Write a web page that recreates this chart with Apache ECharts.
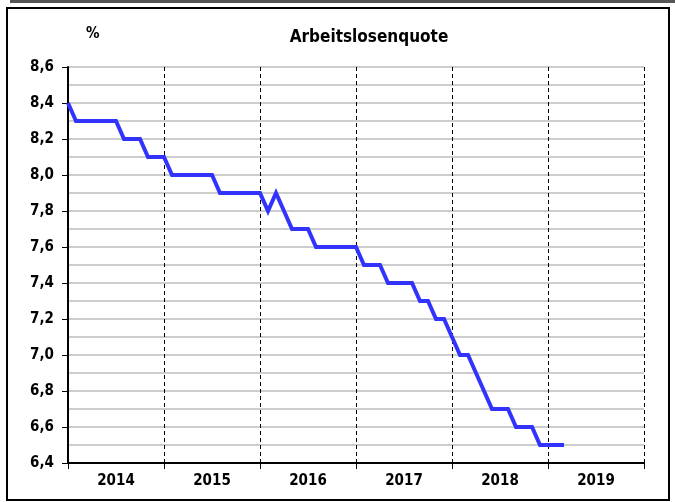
<!DOCTYPE html>
<html>
<head>
<meta charset="utf-8">
<script src="https://cdn.jsdelivr.net/npm/echarts@6/dist/echarts.min.js"></script>
<style>
  html, body { margin: 0; padding: 0; background: #fff; }
  #chart { width: 675px; height: 502px; }
</style>
</head>
<body>
<div id="chart"></div>
<script>
// Jahre der x-Achse
const years = ['2014', '2015', '2016', '2017', '2018', '2019']
// Arbeitslosenquote, monatlich ab Januar 2014 (in %)
const quote = [
  8.4, 8.3, 8.3, 8.3, 8.3, 8.3, 8.3, 8.2, 8.2, 8.2, 8.1, 8.1,
  8.1, 8.0, 8.0, 8.0, 8.0, 8.0, 8.0, 7.9, 7.9, 7.9, 7.9, 7.9,
  7.9, 7.8, 7.9, 7.8, 7.7, 7.7, 7.7, 7.6, 7.6, 7.6, 7.6, 7.6,
  7.6, 7.5, 7.5, 7.5, 7.4, 7.4, 7.4, 7.4, 7.3, 7.3, 7.2, 7.2,
  7.1, 7.0, 7.0, 6.9, 6.8, 6.7, 6.7, 6.7, 6.6, 6.6, 6.6, 6.5,
  6.5, 6.5, 6.5
]

const font = "'Liberation Sans Narrow', 'DejaVu Sans Condensed', sans-serif"
const chart = echarts.init(document.getElementById('chart'))

chart.setOption({
  animation: false,
  textStyle: { fontFamily: font },
  grid: { left: 68, top: 67, right: 31, bottom: 39 },
  graphic: [
    // Rahmen
    { type: 'rect', shape: { x: 7, y: 8, width: 662, height: 492 }, style: { fill: 'none', stroke: '#000', lineWidth: 2 } },
    { type: 'line', shape: { x1: 10, y1: 1.5, x2: 675, y2: 1.5 }, style: { stroke: '#555', lineWidth: 3 } },
    { type: 'text', left: 86, top: 27, style: { text: '%', font: 'bold 15px ' + font, fill: '#000' } },
    { type: 'text', x: 369, y: 38, style: { text: 'Arbeitslosenquote', font: 'bold 17px ' + font, fill: '#000', align: 'center', verticalAlign: 'middle' } }
  ],
  xAxis: [
    {
      type: 'value',
      min: 0,
      max: 72,
      interval: 12,
      axisLine: { lineStyle: { color: '#000', width: 2 } },
      axisTick: { show: true, length: 6, lineStyle: { color: '#000', width: 1 } },
      axisLabel: { show: false },
      splitLine: { show: true, lineStyle: { color: '#000', type: [4, 3], width: 1 } }
    },
    {
      type: 'category',
      position: 'bottom',
      data: years,
      boundaryGap: true,
      axisLine: { show: false },
      axisTick: { show: false },
      axisLabel: { color: '#000', fontWeight: 'bold', fontSize: 15, margin: 11 },
      splitLine: { show: false }
    }
  ],
  yAxis: {
    type: 'value',
    min: 6.4,
    max: 8.6,
    interval: 0.2,
    axisLine: { show: true, lineStyle: { color: '#000', width: 2 } },
    axisTick: { show: true, length: 6, lineStyle: { color: '#000', width: 1 } },
    axisLabel: {
      color: '#000',
      fontWeight: 'bold',
      fontSize: 15,
      margin: 14,
      formatter: v => v.toFixed(1).replace('.', ',')
    },
    splitLine: { show: true, lineStyle: { color: '#bdbdbd', width: 1.5 } },
    minorTick: { show: false, splitNumber: 2 },
    minorSplitLine: { show: true, lineStyle: { color: '#bdbdbd', width: 1.5 } }
  },
  series: [
    {
      name: 'Arbeitslosenquote',
      type: 'line',
      xAxisIndex: 0,
      data: quote.map((v, i) => [i, v]),
      showSymbol: false,
      lineStyle: { color: '#3333ff', width: 4, join: 'miter' },
      z: 5
    }
  ]
})
</script>
</body>
</html>
